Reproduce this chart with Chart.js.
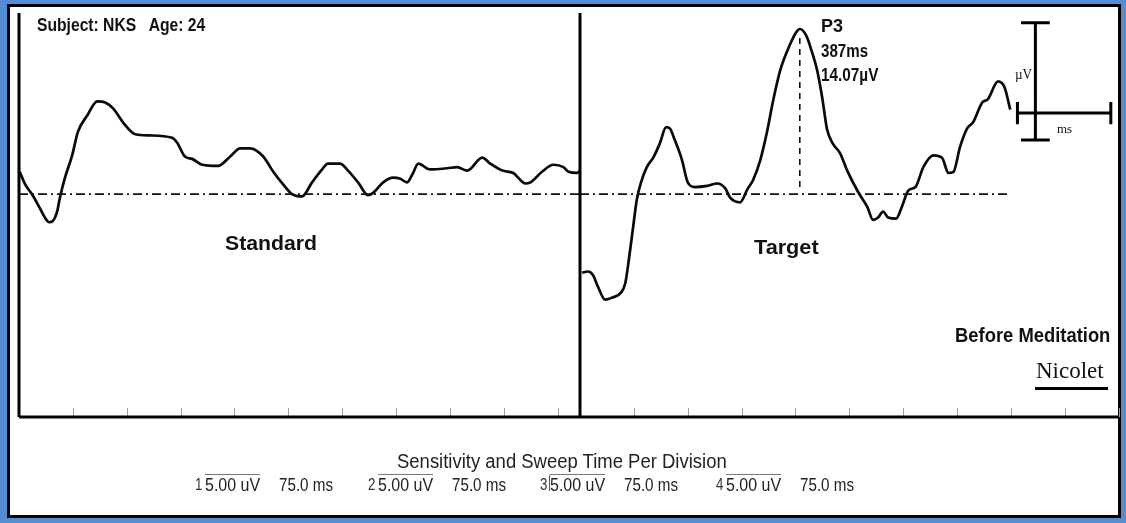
<!DOCTYPE html>
<html>
<head>
<meta charset="utf-8">
<script src="https://cdn.jsdelivr.net/npm/chart.js@4.4.1/dist/chart.umd.min.js"></script>
<style>
  html, body { margin: 0; padding: 0; }
  body { width: 1126px; height: 523px; background: #548dd4; position: relative; overflow: hidden; }
  #sheet { position: absolute; left: 7px; top: 4px; width: 1114px; height: 514px; box-sizing: border-box;
           border: 3px solid #000; background: #fff; }
  canvas { position: absolute; top: 0; }
  #stdChart { left: 0; }
  #tgtChart { left: 560px; }
  .lbl { position: absolute; white-space: pre; line-height: 1; transform-origin: 0 50%; color: #111; }
  .rule { position: absolute; background: #000; }
</style>
</head>
<body>
<div id="sheet"></div>
<canvas id="stdChart" width="600" height="523"></canvas>
<canvas id="tgtChart" width="566" height="523"></canvas>
<script>
// Standard (frequent stimulus) averaged waveform, time in ms, amplitude in microvolts
const stdMs = [82, 89, 100, 110, 117, 123, 128, 134, 138, 145, 155, 163, 176, 190, 201, 212, 226, 243, 263, 294,
  301, 312, 322, 336, 358, 375, 389, 403, 421, 435, 449, 461, 475, 489, 503, 511, 528, 539, 553, 567,
  574, 588, 602, 612, 621, 628, 637, 653, 677, 691, 705, 726, 737, 754, 769, 786, 793, 809, 825, 839,
  846, 858, 862];
const stdUv = [1.9, 0.9, -0.1, -1.2, -2.0, -2.4, -2.3, -1.5, -0.3, 1.4, 3.3, 5.3, 6.7, 7.9, 7.8, 7.3, 6.1, 5.1, 5.0, 4.8,
  4.4, 3.2, 3.0, 2.5, 2.4, 3.2, 3.9, 3.9, 3.2, 1.9, 0.8, 0, -0.2, 1.0, 2.1, 2.6, 2.6, 2.0, 1.0, -0.1,
  0.1, 1.0, 1.4, 1.3, 1.0, 1.6, 2.6, 2.1, 2.2, 2.3, 2.0, 3.1, 2.6, 2.0, 1.8, 0.9, 1.0, 1.9, 2.5, 2.3,
  1.9, 1.8, 2.0];

// Target (oddball) averaged waveform
const tgtMs = [84, 92, 99, 106, 116, 127, 138, 144, 149, 155, 160, 166, 174, 183, 192, 201, 206, 213, 223, 231,
  241, 258, 272, 283, 290, 304, 314, 322, 332, 341, 350, 360, 373, 382, 387, 396, 404, 411, 418, 425,
  433, 443, 453, 468, 481, 489, 496, 503, 510, 521, 529, 538, 548, 559, 573, 585, 594, 601, 610, 620,
  628, 641, 649, 663, 672, 680];
const tgtUv = [-6.7, -6.6, -6.9, -7.9, -9.0, -8.8, -8.4, -7.6, -5.6, -2.8, -0.5, 1.0, 2.3, 3.1, 4.3, 5.7, 5.6, 4.6, 2.9, 1.0,
  0.6, 0.7, 0.9, 0.5, -0.3, -0.7, 0.4, 1.2, 2.9, 5.2, 8.0, 10.6, 12.7, 13.8, 14.07, 13.5, 12.1, 10.6, 8.3, 5.5,
  4.3, 3.5, 2.0, 0.2, -1.1, -2.2, -2.0, -1.5, -2.0, -2.1, -1.1, 0.3, 0.6, 2.3, 3.3, 3.1, 1.8, 1.9, 4.0, 5.6,
  6.1, 7.8, 8.1, 9.6, 9.1, 7.2];

// P3 peak marker
const p3Ms = 387;
const p3Uv = 14.07;

// Sweep settings per channel
const channels = ['1', '2', '3', '4'];
const sensitivity = ['5.00 uV', '5.00 uV', '5.00 uV', '5.00 uV'];
const sweepTime = ['75.0 ms', '75.0 ms', '75.0 ms', '75.0 ms'];

const msPerDiv = 75;
const sweepStart = 81;
const stdEnd = 862;
const tgtEnd = 830;
const baseEndTgt = 677;
const uvMin = -19.0;
const uvMax = 15.86;

const toPts = (xs, ys) => xs.map((x, i) => ({ x: x, y: ys[i] }));

// frame, division ticks and the scale bar are drawn with the chart's own scales
const framePlugin = {
  id: 'frame',
  afterDatasetsDraw(chart, args, opts) {
    const { ctx, chartArea: a, scales } = chart;
    ctx.save();
    // division ticks along the bottom edge
    ctx.strokeStyle = '#a0a0a0';
    ctx.lineWidth = 1;
    for (let t = scales.x.min + msPerDiv; t <= scales.x.max + 1; t += msPerDiv) {
      const px = Math.round(scales.x.getPixelForValue(t)) + 0.5;
      ctx.beginPath();
      ctx.moveTo(px, a.bottom - 9);
      ctx.lineTo(px, a.bottom);
      ctx.stroke();
    }
    ctx.strokeStyle = '#000';
    ctx.lineWidth = 3;
    ctx.beginPath();
    ctx.moveTo(a.left, a.bottom);
    ctx.lineTo(a.right, a.bottom);
    if (opts.box) {
      ctx.moveTo(a.left, a.top + 5);
      ctx.lineTo(a.left, a.bottom);
      ctx.moveTo(a.right, a.top + 5);
      ctx.lineTo(a.right, a.bottom);
    }
    ctx.stroke();

    if (opts.scaleBar) {
      const x = v => scales.x.getPixelForValue(v);
      const y = v => scales.y.getPixelForValue(v);
      ctx.lineWidth = 3;
      ctx.beginPath();
      // µV bar
      ctx.moveTo(x(715), y(14.6)); ctx.lineTo(x(715), y(4.6));
      ctx.moveTo(x(695), y(14.6)); ctx.lineTo(x(735), y(14.6));
      ctx.moveTo(x(695), y(4.6)); ctx.lineTo(x(735), y(4.6));
      // ms bar
      ctx.moveTo(x(690), y(6.9)); ctx.lineTo(x(820), y(6.9));
      ctx.moveTo(x(690), y(7.85)); ctx.lineTo(x(690), y(5.95));
      ctx.moveTo(x(820), y(7.85)); ctx.lineTo(x(820), y(5.95));
      ctx.stroke();
    }
    ctx.restore();
  }
};

function baseOptions(xMax, pad, frameOpts) {
  return {
    responsive: false,
    animation: false,
    layout: { padding: pad },
    plugins: { legend: { display: false }, tooltip: { enabled: false }, frame: frameOpts },
    scales: {
      x: { type: 'linear', min: sweepStart, max: xMax, display: false },
      y: { type: 'linear', min: uvMin, max: uvMax, display: false }
    },
    elements: { point: { radius: 0 } }
  };
}

const traceStyle = { borderColor: '#0a0a0a', borderWidth: 2.7, showLine: true, cubicInterpolationMode: 'monotone', pointRadius: 0 };
const baseStyle = { borderColor: '#111', borderWidth: 1.6, borderDash: [9, 4, 2, 4], showLine: true, pointRadius: 0 };

new Chart(document.getElementById('stdChart'), {
  type: 'scatter',
  data: {
    datasets: [
      Object.assign({ label: 'baseline', data: [{ x: sweepStart, y: 0 }, { x: stdEnd, y: 0 }] }, baseStyle),
      Object.assign({ label: 'Standard', data: toPts(stdMs, stdUv) }, traceStyle)
    ]
  },
  options: baseOptions(stdEnd, { left: 19, right: 20, top: 8, bottom: 106 }, { box: true }),
  plugins: [framePlugin]
});

new Chart(document.getElementById('tgtChart'), {
  type: 'scatter',
  data: {
    datasets: [
      Object.assign({ label: 'baseline', data: [{ x: sweepStart, y: 0 }, { x: baseEndTgt, y: 0 }] }, baseStyle),
      { label: 'P3 latency', data: [{ x: p3Ms, y: 0.6 }, { x: p3Ms, y: p3Uv - 0.5 }], showLine: true,
        borderColor: '#111', borderWidth: 1.6, borderDash: [6, 5], pointRadius: 0 },
      Object.assign({ label: 'Target', data: toPts(tgtMs, tgtUv) }, traceStyle)
    ]
  },
  options: baseOptions(tgtEnd, { left: 20, right: 8, top: 8, bottom: 106 }, { scaleBar: true }),
  plugins: [framePlugin]
});

// text labels, squeezed horizontally to the condensed look of the printout
function label(text, left, cy, width, font, color) {
  const el = document.createElement('div');
  el.className = 'lbl';
  el.textContent = text;
  el.style.font = font;
  el.style.left = left + 'px';
  if (color) el.style.color = color;
  document.body.appendChild(el);
  const w = el.offsetWidth, h = el.offsetHeight;
  el.style.top = (cy - h / 2) + 'px';
  el.style.transform = 'scaleX(' + (width / w).toFixed(3) + ')';
}
function rule(left, top, width, height, color) {
  const el = document.createElement('div');
  el.className = 'rule';
  Object.assign(el.style, { left: left + 'px', top: top + 'px', width: width + 'px', height: height + 'px' });
  if (color) el.style.background = color;
  document.body.appendChild(el);
}

const sans = '"Liberation Sans", Arial, sans-serif';
const serif = '"Liberation Serif", "Times New Roman", serif';
label('Subject: NKS   Age: 24', 37, 25, 168, 'bold 19px ' + sans);
label('Standard', 225, 243, 92, 'bold 21px ' + sans);
label('Target', 754, 247, 65, 'bold 21px ' + sans);
label('P3', 821, 26, 22, 'bold 18px ' + sans);
label('387ms', 821, 51, 47, 'bold 18px ' + sans);
label('14.07µV', 821, 75, 57, 'bold 18px ' + sans);
label('µV', 1015, 75, 17, '14px ' + serif);
label('ms', 1057, 129, 15, '13px ' + serif);
label('Before Meditation', 955, 335, 155, 'bold 21px ' + sans);
label('Nicolet', 1036, 371, 68, '23px ' + serif);
rule(1035, 387, 73, 3);

label('Sensitivity and Sweep Time Per Division', 397, 461, 330, '20px ' + sans, '#222');
const rowX = [195, 368, 540, 716];
channels.forEach((c, i) => {
  const x0 = rowX[i];
  label(c, x0, 485, 7, '17px ' + sans, '#333');
  label(sensitivity[i], x0 + 10, 485, 55, '18px ' + sans, '#222');
  label(sweepTime[i], x0 + 84, 485, 54, '18px ' + sans, '#222');
  rule(x0 + 10, 474, 55, 1, '#777');
});
rule(549, 475, 1, 16, '#555');
</script>
</body>
</html>
